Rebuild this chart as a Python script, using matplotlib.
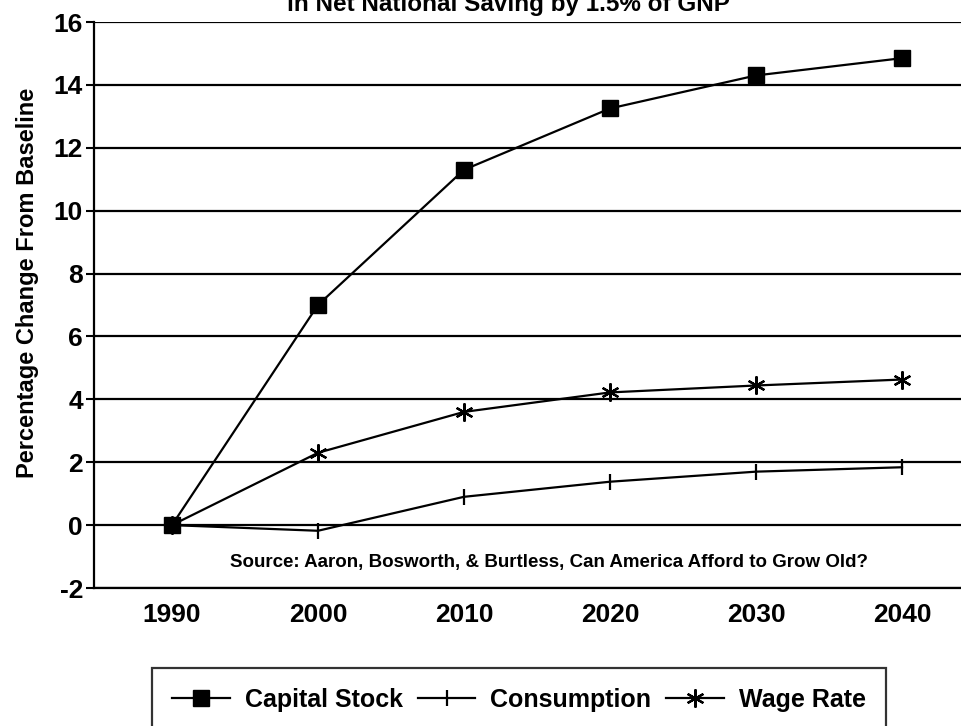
import matplotlib
matplotlib.use('Agg')
import matplotlib.pyplot as plt

years = [1990, 2000, 2010, 2020, 2030, 2040]
capital_stock = [0.0, 7.0, 11.3, 13.25, 14.3, 14.85]
consumption = [0.0, -0.18, 0.9, 1.38, 1.7, 1.84]
wage_rate = [0.0, 2.3, 3.6, 4.22, 4.44, 4.63]
yticks = [-2, 0, 2, 4, 6, 8, 10, 12, 14, 16]

plt.rcParams['font.family'] = ['Liberation Sans', 'DejaVu Sans']
plt.rcParams['font.weight'] = 'bold'
plt.rcParams['axes.labelweight'] = 'bold'
plt.rcParams['axes.unicode_minus'] = False

fig = plt.figure(figsize=(9.61, 7.26), dpi=100)
ax = fig.add_axes([94/961, 138/726, 1 - 94/961, 566/726])

ax.plot(years, capital_stock, color='black', lw=1.6, marker='s', ms=11,
        label='Capital Stock', zorder=3)
ax.plot(years, consumption, color='black', lw=1.6, marker='|', ms=12, mew=1.6,
        label='Consumption', zorder=3)
ax.plot(years, wage_rate, color='black', lw=1.6, marker=(6, 2, 0), ms=13, mew=1.6,
        label='Wage Rate', zorder=3)

ax.set_xlim(1984.66, 2044.04)
ax.set_ylim(-2, 16)
ax.set_yticks(yticks)
ax.set_xticks(years)
ax.yaxis.grid(True, color='black', lw=1.6)
ax.set_axisbelow(True)
ax.tick_params(axis='y', length=6, width=1.5, labelsize=19, pad=2)
ax.tick_params(axis='x', length=0, labelsize=19, pad=11)
ax.spines['right'].set_visible(False)
ax.spines['top'].set_visible(False)
for s in ['left', 'bottom']:
    ax.spines[s].set_linewidth(1.6)

ax.set_ylabel('Percentage Change From Baseline', fontsize=17)
ax.yaxis.set_label_coords(-0.064, 0.539)
ax.text(2015.8, -1.2, 'Source: Aaron, Bosworth, & Burtless, Can America Afford to Grow Old?',
        ha='center', va='center', fontsize=13.5)

fig.text(508/961, 1 - 11/726, 'in Net National Saving by 1.5% of GNP',
         ha='center', va='baseline', fontsize=17.5)

leg = fig.legend(loc='upper center', bbox_to_anchor=(519/961, 1 - 668/726), ncol=3,
                 fontsize=18, frameon=True, fancybox=False, edgecolor='black',
                 handlelength=2.3, handletextpad=0.6, columnspacing=0.6,
                 borderpad=0.8, borderaxespad=0)
leg.get_frame().set_linewidth(1.6)

fig.savefig('out.png', dpi=100, facecolor='white')
